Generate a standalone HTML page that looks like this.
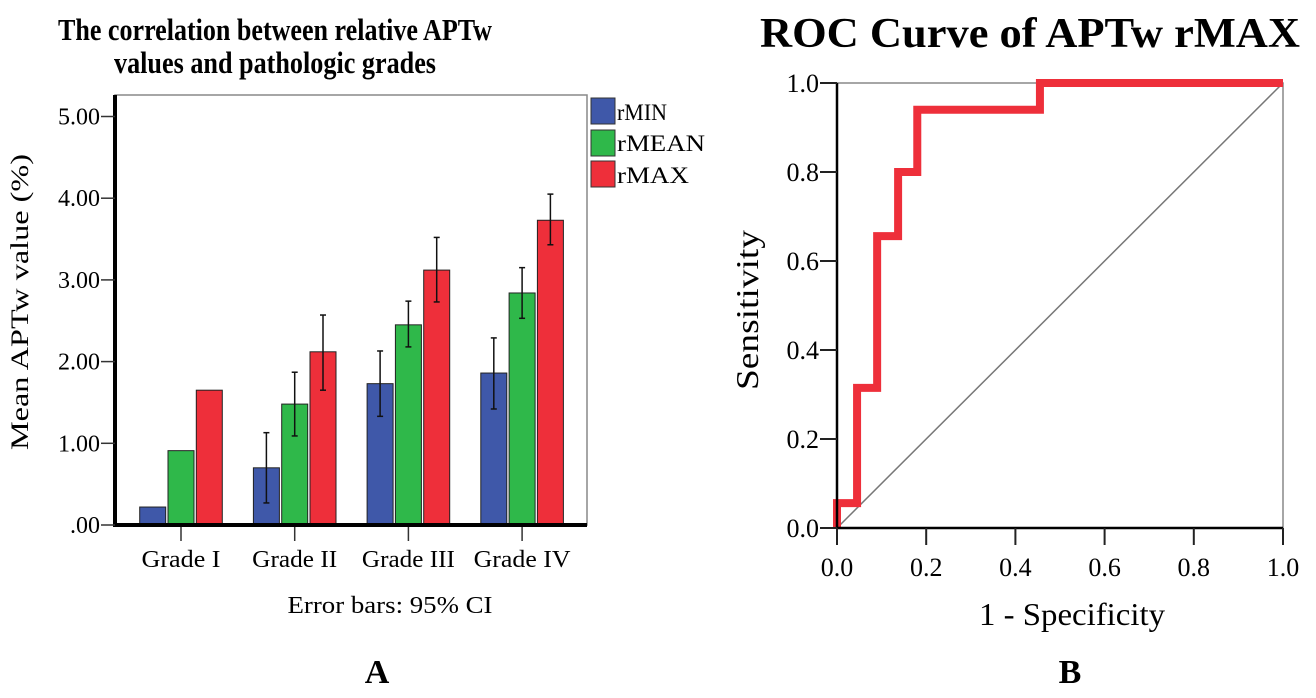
<!DOCTYPE html>
<html><head><meta charset="utf-8"><style>
html,body{margin:0;padding:0;background:#fff;}
svg{display:block;font-family:"Liberation Serif",serif;}
svg text{font-family:"Liberation Serif",serif;}
</style></head><body>
<svg id="svg" width="1316" height="698" viewBox="0 0 1316 698" xmlns="http://www.w3.org/2000/svg">
<text x="275" y="40" font-size="31" font-weight="bold" text-anchor="middle" textLength="434" lengthAdjust="spacingAndGlyphs">The correlation between relative APTw</text>
<text x="275" y="73" font-size="31" font-weight="bold" text-anchor="middle" textLength="322" lengthAdjust="spacingAndGlyphs">values and pathologic grades</text>
<rect x="115" y="95" width="472" height="430" fill="none" stroke="#888" stroke-width="1.5"/>
<g id="bars"></g>
<text x="28" y="302" font-size="25" text-anchor="middle" transform="rotate(-90 28 302)" textLength="296" lengthAdjust="spacingAndGlyphs">Mean APTw value (%)</text>
<text x="390" y="613" font-size="24" text-anchor="middle" textLength="205" lengthAdjust="spacingAndGlyphs">Error bars: 95% CI</text>
<text x="377" y="683" font-size="34" font-weight="bold" text-anchor="middle">A</text>
<g>
<rect x="591" y="98" width="24" height="26" fill="#3f58a9" stroke="#333"/>
<text x="617" y="120" font-size="23" textLength="50" lengthAdjust="spacingAndGlyphs">rMIN</text>
<rect x="591" y="130" width="24" height="26" fill="#2fb84a" stroke="#333"/>
<text x="617" y="151" font-size="23" textLength="88" lengthAdjust="spacingAndGlyphs">rMEAN</text>
<rect x="591" y="161" width="24" height="26" fill="#ee2f3a" stroke="#333"/>
<text x="617" y="183" font-size="23" textLength="72" lengthAdjust="spacingAndGlyphs">rMAX</text>
</g>
<text x="1030" y="47" font-size="42" font-weight="bold" text-anchor="middle" textLength="540" lengthAdjust="spacingAndGlyphs">ROC Curve of APTw rMAX</text>
<g id="roc"></g>
<text x="758" y="310" font-size="32" text-anchor="middle" transform="rotate(-90 758 310)" textLength="160" lengthAdjust="spacingAndGlyphs">Sensitivity</text>
<text x="1072" y="625" font-size="32" text-anchor="middle" textLength="186" lengthAdjust="spacingAndGlyphs">1 - Specificity</text>
<text x="1070" y="683" font-size="34" font-weight="bold" text-anchor="middle">B</text>
</svg>
<script>
const categories = ["Grade I","Grade II","Grade III","Grade IV"];
const seriesNames = ["rMIN","rMEAN","rMAX"];
const rMIN = [0.22,0.70,1.73,1.86];
const rMEAN = [0.91,1.48,2.45,2.84];
const rMAX = [1.65,2.12,3.12,3.73];
const rMINLow = [null,0.27,1.33,1.42];
const rMINHigh = [null,1.13,2.13,2.29];
const rMEANLow = [null,1.09,2.18,2.53];
const rMEANHigh = [null,1.87,2.74,3.15];
const rMAXLow = [null,1.65,2.73,3.43];
const rMAXHigh = [null,2.57,3.52,4.05];
const yTicks = [0,1,2,3,4,5];
const yTickLabels = [".00","1.00","2.00","3.00","4.00","5.00"];

const rocX = [0,0,0.045,0.045,0.09,0.09,0.137,0.137,0.18,0.18,0.455,0.455,1];
const rocY = [0,0.056,0.056,0.315,0.315,0.656,0.656,0.80,0.80,0.94,0.94,1,1];
const rocTicks = [0,0.2,0.4,0.6,0.8,1.0];
const rocTickLabels = ["0.0","0.2","0.4","0.6","0.8","1.0"];

const NS="http://www.w3.org/2000/svg";
function mk(tag,attrs,parent){const e=document.createElementNS(NS,tag);for(const k in attrs)e.setAttribute(k,attrs[k]);parent.appendChild(e);return e;}

// bar chart
const bg=document.getElementById('bars');
const y0=525, unit=81.7, xL=115;
const yS=v=>y0-v*unit;
const xC=i=>181+i*113.7;
const catWidths=[79,85,93,97];
const colors=["#3f58a9","#2fb84a","#ee2f3a"];
const vals=[rMIN,rMEAN,rMAX], lows=[rMINLow,rMEANLow,rMAXLow], highs=[rMINHigh,rMEANHigh,rMAXHigh];
categories.forEach((c,i)=>{
  vals.forEach((arr,s)=>{
    const x=xC(i)+(s-1)*28.3-13;
    const r=mk('rect',{x:x,y:yS(arr[i]),width:26,height:arr[i]*unit,fill:colors[s],stroke:'#222','stroke-width':1},bg);
    
    
    if(lows[s][i]!=null){
      const cx=x+13, a=yS(highs[s][i]), b=yS(lows[s][i]);
      const g=mk('g',{stroke:'#111','stroke-width':1.5},bg);
      
      
      mk('line',{x1:cx,x2:cx,y1:a,y2:b},g);
      mk('line',{x1:cx-3,x2:cx+3,y1:a,y2:a},g);
      mk('line',{x1:cx-3,x2:cx+3,y1:b,y2:b},g);
    }
  });
  const t=mk('line',{x1:xC(i),x2:xC(i),y1:y0,y2:y0+16,stroke:'#333','stroke-width':1.5},bg);
  
  
  const l=mk('text',{x:xC(i),y:567,'font-size':24,'text-anchor':'middle',textLength:catWidths[i],lengthAdjust:'spacingAndGlyphs'},bg);
  l.textContent=c;
  
  
});
const ax=mk('line',{x1:xL,x2:xL,y1:95,y2:y0+2,stroke:'#000','stroke-width':4},bg);


const bx=mk('line',{x1:xL,x2:587,y1:y0,y2:y0,stroke:'#000','stroke-width':4},bg);


yTicks.forEach((v,i)=>{
  const t=mk('line',{x1:xL-14,x2:xL,y1:yS(v),y2:yS(v),stroke:'#333','stroke-width':1.5},bg);
  
  
  const l=mk('text',{x:xL-15,y:yS(v)+8,'font-size':24,'text-anchor':'end'},bg);
  l.textContent=yTickLabels[i];
  
  
});

// ROC
const rg=document.getElementById('roc');
const L=837,R=1283,T=83,B=528;
const rx=v=>L+v*(R-L), ry=v=>B-v*(B-T);
const fr=mk('rect',{x:L,y:T,width:R-L,height:B-T,fill:'none',stroke:'#888','stroke-width':1.5},rg);


const dg=mk('line',{x1:rx(0),y1:ry(0),x2:rx(1),y2:ry(1),stroke:'#777','stroke-width':1.5},rg);


const pts=rocX.map((x,i)=>rx(x)+','+ry(rocY[i])).join(' ');
const pl=mk('polyline',{points:pts,fill:'none',stroke:'#ee2f3a','stroke-width':8,'stroke-linejoin':'miter','stroke-linecap':'butt'},rg);


const a1=mk('line',{x1:L,x2:L,y1:T,y2:B+1,stroke:'#000','stroke-width':2.5},rg);


const a2=mk('line',{x1:L-1,x2:R,y1:B,y2:B,stroke:'#000','stroke-width':2.5},rg);


rocTicks.forEach((v,i)=>{
  const t=mk('line',{x1:rx(v),x2:rx(v),y1:B,y2:B+17,stroke:'#222','stroke-width':2},rg);
  
  
  const l=mk('text',{x:rx(v),y:576,'font-size':26,'text-anchor':'middle'},rg);
  l.textContent=rocTickLabels[i];
  
  
  const t2=mk('line',{x1:L-17,x2:L,y1:ry(v),y2:ry(v),stroke:'#222','stroke-width':2},rg);
  
  
  const l2=mk('text',{x:L-18,y:ry(v)+9,'font-size':26,'text-anchor':'end'},rg);
  l2.textContent=rocTickLabels[i];
  
  
});
</script>
</body></html>
